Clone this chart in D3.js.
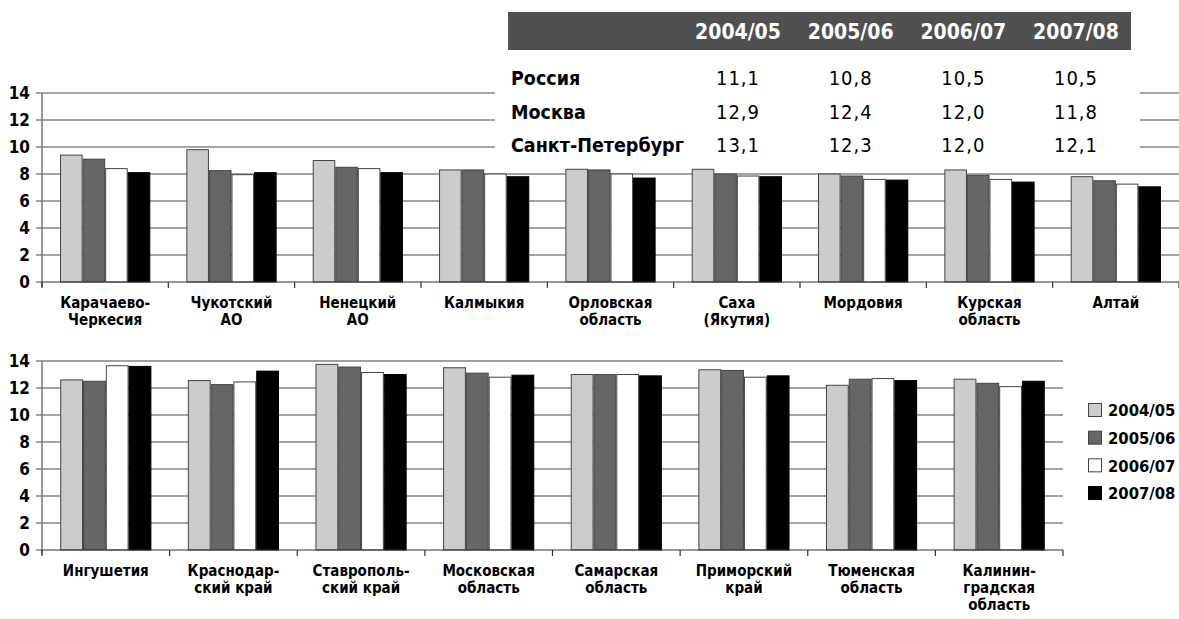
<!DOCTYPE html>
<html>
<head>
<meta charset="utf-8">
<script src="https://cdn.jsdelivr.net/npm/d3@7"></script>
<style>
  body { margin: 0; background: #fff; }
  svg { display: block; }
  text { font-family: "DejaVu Sans Condensed", "DejaVu Sans", sans-serif; font-stretch: condensed; }
</style>
</head>
<body>
<div id="chart"></div>
<script>
// сезоны и цвета столбиков
const seasons = ['2004/05', '2005/06', '2006/07', '2007/08'];
const seasonColors = ['#cccccc', '#666666', '#ffffff', '#000000'];
const yTicks = [0, 2, 4, 6, 8, 10, 12, 14];

// верхний график
const topRegions = ['Карачаево-\nЧеркесия', 'Чукотский\nАО', 'Ненецкий\nАО', 'Калмыкия',
  'Орловская\nобласть', 'Саха\n(Якутия)', 'Мордовия', 'Курская\nобласть', 'Алтай'];
const top0405 = [9.4, 9.8, 9.0, 8.3, 8.35, 8.35, 8.0, 8.3, 7.8];
const top0506 = [9.1, 8.25, 8.5, 8.3, 8.3, 8.0, 7.85, 7.9, 7.5];
const top0607 = [8.4, 7.95, 8.4, 8.0, 8.0, 7.85, 7.6, 7.6, 7.25];
const top0708 = [8.1, 8.1, 8.1, 7.8, 7.7, 7.8, 7.55, 7.4, 7.05];

// нижний график
const bottomRegions = ['Ингушетия', 'Краснодар-\nский край', 'Ставрополь-\nский край',
  'Московская\nобласть', 'Самарская\nобласть', 'Приморский\nкрай', 'Тюменская\nобласть',
  'Калинин-\nградская\nобласть'];
const bot0405 = [12.6, 12.55, 13.75, 13.5, 13.0, 13.35, 12.2, 12.65];
const bot0506 = [12.5, 12.25, 13.55, 13.1, 13.0, 13.3, 12.65, 12.35];
const bot0607 = [13.65, 12.45, 13.15, 12.8, 13.0, 12.8, 12.7, 12.1];
const bot0708 = [13.6, 13.25, 13.0, 12.95, 12.9, 12.9, 12.55, 12.5];

// таблица
const tableRows = ['Россия', 'Москва', 'Санкт-Петербург'];
const tableRussia = [11.1, 10.8, 10.5, 10.5];
const tableMoscow = [12.9, 12.4, 12.0, 11.8];
const tableSpb = [13.1, 12.3, 12.0, 12.1];

const width = 1179, height = 619;
const svg = d3.select('#chart').append('svg').attr('width', width).attr('height', height);

const fmt = v => d3.format('.1f')(v).replace('.', ',');

const strokeFor = i => (i === 3 ? '#000' : '#444');

const drawPanel = (regions, series, x0, x1, yTop, yBottom, topGridColor) => {
  const g = svg.append('g');
  const x = d3.scaleBand().domain(regions).range([x0, x1]).paddingInner(0).paddingOuter(0);
  const xs = d3.scaleBand().domain(seasons).range([0, x.bandwidth()]).paddingInner(0).paddingOuter(0.8);
  const y = d3.scaleLinear().domain([0, 14]).range([yBottom, yTop]);

  // сетка
  g.selectAll('.grid').data(yTicks.filter(t => t > 0)).enter().append('line')
    .attr('x1', x0 - 6).attr('x2', x1)
    .attr('y1', d => y(d)).attr('y2', d => y(d))
    .attr('stroke', d => (d === 14 && topGridColor) ? topGridColor : '#4a4a4a')
    .attr('stroke-width', d => (d === 14 && topGridColor) ? 1.6 : 1);

  // столбики
  const rows = regions.map((r, i) => ({ region: r, values: series.map(s => s[i]) }));
  const grp = g.selectAll('.grp').data(rows).enter().append('g')
    .attr('transform', d => 'translate(' + x(d.region) + ',0)');
  grp.selectAll('rect').data(d => d.values.map((v, i) => ({ season: seasons[i], v: v, i: i })))
    .enter().append('rect')
    .attr('x', d => xs(d.season) + 0.5)
    .attr('width', xs.bandwidth() - 1)
    .attr('y', d => y(d.v))
    .attr('height', d => y(0) - y(d.v))
    .attr('fill', d => seasonColors[d.i])
    .attr('stroke', d => strokeFor(d.i))
    .attr('stroke-width', 1);

  // ось Y
  g.append('line').attr('x1', x0).attr('x2', x0).attr('y1', yTop).attr('y2', yBottom + 5)
    .attr('stroke', '#777').attr('stroke-width', 1.5);
  g.selectAll('.ylab').data(yTicks).enter().append('text')
    .attr('x', 30).attr('y', d => y(d)).attr('dy', '0.36em')
    .attr('text-anchor', 'end').attr('font-size', 17).attr('font-weight', 'bold')
    .text(d => d);
  g.append('line').attr('x1', x0 - 6).attr('x2', x0).attr('y1', y(0)).attr('y2', y(0))
    .attr('stroke', '#4a4a4a');

  // ось X
  g.append('line').attr('x1', x0).attr('x2', x1).attr('y1', y(0)).attr('y2', y(0))
    .attr('stroke', '#333').attr('stroke-width', 1.2);
  const bounds = regions.map(r => x(r)).concat([x1]);
  g.selectAll('.xtick').data(bounds).enter().append('line')
    .attr('x1', d => d).attr('x2', d => d)
    .attr('y1', y(0)).attr('y2', y(0) + 6)
    .attr('stroke', '#333').attr('stroke-width', 1.2);

  const labels = g.selectAll('.xlab').data(regions).enter().append('text')
    .attr('x', d => x(d) + x.bandwidth() / 2)
    .attr('y', y(0) + 26)
    .attr('text-anchor', 'middle').attr('font-size', 15).attr('font-weight', 'bold');
  labels.each(function(d) {
    const t = d3.select(this);
    d.split('\n').forEach((line, i) => {
      t.append('tspan').attr('x', x(d) + x.bandwidth() / 2).attr('dy', i === 0 ? 0 : 17).text(line);
    });
  });
};

drawPanel(topRegions, [top0405, top0506, top0607, top0708], 42, 1179, 93, 282, null);
drawPanel(bottomRegions, [bot0405, bot0506, bot0607, bot0708], 42, 1063, 361, 550, '#808080');

// легенда
const legend = svg.append('g');
const ly = d3.scalePoint().domain(seasons).range([410, 493]);
legend.selectAll('rect').data(seasons).enter().append('rect')
  .attr('x', 1088.5).attr('y', d => ly(d) - 6.5).attr('width', 13).attr('height', 13)
  .attr('fill', (d, i) => seasonColors[i]).attr('stroke', (d, i) => strokeFor(i));
legend.selectAll('text').data(seasons).enter().append('text')
  .attr('x', 1108).attr('y', d => ly(d)).attr('dy', '0.38em')
  .attr('font-size', 16.5).attr('font-weight', 'bold').text(d => d);

// таблица поверх верхнего графика
const table = svg.append('g');
table.append('rect').attr('x', 495).attr('y', 0).attr('width', 645).attr('height', 160).attr('fill', '#fff');
table.append('rect').attr('x', 508).attr('y', 12).attr('width', 623).attr('height', 38).attr('fill', '#505050');
const colX = d3.scalePoint().domain(seasons).range([738, 1076]);
table.selectAll('.hdr').data(seasons).enter().append('text')
  .attr('x', d => colX(d)).attr('y', 38.5)
  .attr('text-anchor', 'middle').attr('fill', '#fff')
  .attr('font-size', 21).attr('font-weight', 'bold').text(d => d);

const tableData = [tableRussia, tableMoscow, tableSpb];
const rowY = d3.scalePoint().domain(tableRows).range([85, 152]);
tableRows.forEach((name, r) => {
  table.append('text').attr('x', 511).attr('y', rowY(name))
    .attr('font-size', 19.5).attr('font-weight', 'bold').text(name);
  table.selectAll('.v' + r).data(tableData[r]).enter().append('text')
    .attr('x', (d, i) => colX(seasons[i]))
    .attr('y', rowY(name))
    .attr('text-anchor', 'middle')
    .attr('font-family', '"Liberation Sans", sans-serif')
    .attr('font-stretch', 'normal')
    .attr('font-size', 20).attr('letter-spacing', 1)
    .text(d => fmt(d));
});
</script>
</body>
</html>
